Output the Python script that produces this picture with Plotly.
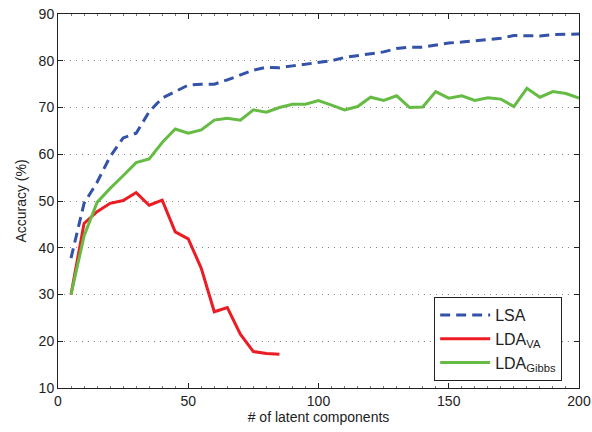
import plotly.graph_objects as go

x_lsa = list(range(5, 201, 5))
lsa = [37.8, 49.5, 54.0, 59.5, 63.5, 64.5, 69.1, 72.0, 73.4, 74.8,
       75.0, 75.0, 75.9, 77.0, 78.0, 78.6, 78.5, 78.9, 79.3, 79.7,
       80.0, 80.7, 81.1, 81.4, 81.9, 82.6, 82.9, 82.9, 83.4, 83.8,
       84.0, 84.3, 84.6, 84.8, 85.4, 85.4, 85.3, 85.6, 85.7, 85.7]

x_va = list(range(5, 86, 5))
lda_va = [30.0, 45.2, 47.7, 49.5, 50.1, 51.8, 49.1, 50.2, 43.4, 41.9,
          35.6, 26.3, 27.2, 21.5, 17.8, 17.4, 17.2]

x_gibbs = list(range(5, 201, 5))
lda_gibbs = [30.0, 42.5, 49.7, 52.7, 55.4, 58.2, 59.0, 62.5, 65.4, 64.5,
             65.2, 67.3, 67.7, 67.3, 69.5, 69.0, 70.0, 70.7, 70.7, 71.5,
             70.5, 69.5, 70.2, 72.2, 71.5, 72.5, 70.0, 70.1, 73.4, 72.0,
             72.5, 71.5, 72.1, 71.8, 70.2, 74.1, 72.2, 73.4, 73.0, 72.0]

x_ticks = [0, 50, 100, 150, 200]
y_ticks = [10, 20, 30, 40, 50, 60, 70, 80, 90]

fig = go.Figure()
fig.add_trace(go.Scatter(x=x_lsa, y=lsa, mode="lines", name="LSA",
                         line=dict(color="#3352A8", width=3, dash="10px,6px")))
fig.add_trace(go.Scatter(x=x_va, y=lda_va, mode="lines", name="LDA<sub>VA</sub>",
                         line=dict(color="#EC1C24", width=3)))
fig.add_trace(go.Scatter(x=x_gibbs, y=lda_gibbs, mode="lines", name="LDA<sub>Gibbs</sub>",
                         line=dict(color="#66BB44", width=3)))

font = "Liberation Sans, Arial, Helvetica, sans-serif"
fig.update_layout(
    width=592, height=432,
    margin=dict(l=58, r=13, t=14, b=44),
    paper_bgcolor="white", plot_bgcolor="white",
    font=dict(family=font, size=14, color="#222"),
    legend=dict(x=0.722, y=0.243, xanchor="left", yanchor="top",
                bordercolor="#222", borderwidth=1, bgcolor="white",
                font=dict(size=16), tracegroupgap=2, itemwidth=50),
    xaxis=dict(range=[0, 200], tickvals=x_ticks, showgrid=False, zeroline=False,
               automargin=False, ticklabeloverflow="allow",
               showline=True, linecolor="#222", linewidth=1, mirror="ticks",
               ticks="inside", ticklen=5, tickcolor="#222",
               title=dict(text="# of latent components", standoff=2,
                          font=dict(size=14)),
               minor=dict(ticks="inside", ticklen=2, dtick=5, tickcolor="#777")),
    yaxis=dict(range=[10, 90], tickvals=y_ticks, showgrid=True,
               automargin=False, ticklabeloverflow="allow",
               gridcolor="#888", griddash="1px,5px", gridwidth=1, zeroline=False,
               showline=True, linecolor="#222", linewidth=1, mirror="ticks",
               ticks="inside", ticklen=5, tickcolor="#222",
               title=dict(text="Accuracy (%)", standoff=8, font=dict(size=14))),
)

# remove the default 8px page margin so the figure sits at the window origin
fig.write_html("out.html",
               config={"displayModeBar": False},
               post_script="document.body.style.margin='0';document.body.style.overflow='hidden';")
